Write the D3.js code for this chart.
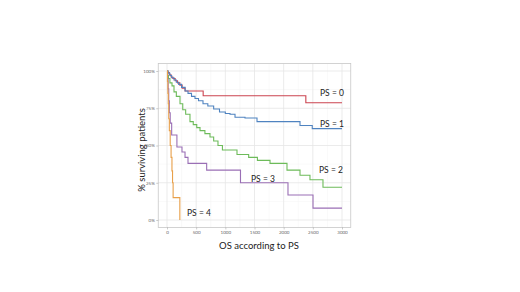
<!DOCTYPE html>
<html><head><meta charset="utf-8">
<script src="https://cdn.jsdelivr.net/npm/d3@7"></script>
<style>body{margin:0;background:#fff}svg{display:block}</style>
</head><body>
<script>
const xTicks = [0, 500, 1000, 1500, 2000, 2500, 3000];
const yTicks = [0, 0.25, 0.5, 0.75, 1];
const yTickLabels = ["0%", "25%", "50%", "75%", "100%"];
const groups = ["PS = 0", "PS = 1", "PS = 2", "PS = 3", "PS = 4"];
const ps0 = [[0,1],[15,0.99],[40,0.975],[70,0.96],[100,0.95],[140,0.935],[180,0.92],[220,0.905],[260,0.885],[310,0.866],[620,0.834],[2380,0.787],[3000,0.787]];
const ps1 = [[0,1],[20,0.985],[50,0.97],[80,0.955],[120,0.94],[160,0.925],[200,0.91],[250,0.89],[310,0.866],[360,0.85],[420,0.83],[480,0.815],[540,0.80],[617,0.78],[700,0.765],[800,0.745],[900,0.725],[1000,0.715],[1080,0.71],[1166,0.69],[1337,0.685],[1543,0.66],[2280,0.634],[2490,0.613],[3000,0.613]];
const ps2 = [[0,1],[10,0.97],[25,0.95],[50,0.92],[86,0.9],[120,0.86],[160,0.83],[223,0.78],[270,0.74],[320,0.71],[394,0.66],[450,0.64],[510,0.62],[566,0.60],[650,0.58],[737,0.557],[800,0.53],[874,0.50],[950,0.47],[1200,0.44],[1400,0.42],[1550,0.40],[1766,0.38],[2057,0.335],[2280,0.30],[2451,0.27],[2674,0.22],[3000,0.22]];
const ps3 = [[0,1],[10,0.95],[20,0.88],[30,0.8],[40,0.72],[55,0.65],[80,0.57],[170,0.49],[257,0.456],[309,0.42],[360,0.38],[680,0.335],[1260,0.25],[2074,0.168],[2503,0.08],[3000,0.08]];
const ps4 = [[0,1],[8,0.93],[15,0.85],[22,0.78],[30,0.68],[40,0.6],[55,0.5],[70,0.42],[85,0.33],[95,0.25],[105,0.15],[220,0]];
const series = [ps0, ps1, ps2, ps3, ps4];
const colors = ["#cc4450", "#4f83c0", "#6dbb5a", "#9a6fb5", "#e8a04a"];
const labelPos = [[2623,0.832],[2623,0.622],[2606,0.315],[1440,0.255],[343,0.027]];

const W = 520, H = 292;
const svg = d3.select("body").append("svg").attr("width", W).attr("height", H);
const x = d3.scaleLinear().domain([0, 3000]).range([167, 342]);
const y = d3.scaleLinear().domain([0, 1]).range([220, 71]);
const px0 = x(-150), px1 = x(3150), py0 = y(1.05), py1 = y(-0.05);

// grid
const g = svg.append("g");
const minorX = d3.range(250, 3000, 500), minorY = [0.125, 0.375, 0.625, 0.875];
g.selectAll(".mx").data(minorX).join("line").attr("x1", d=>x(d)).attr("x2", d=>x(d)).attr("y1", py0).attr("y2", py1).attr("stroke", "#f2f2f2").attr("stroke-width", 0.5);
g.selectAll(".my").data(minorY).join("line").attr("y1", d=>y(d)).attr("y2", d=>y(d)).attr("x1", px0).attr("x2", px1).attr("stroke", "#f2f2f2").attr("stroke-width", 0.5);
g.selectAll(".gx").data(xTicks).join("line").attr("x1", d=>x(d)).attr("x2", d=>x(d)).attr("y1", py0).attr("y2", py1).attr("stroke", "#e6e6e6").attr("stroke-width", 0.8);
g.selectAll(".gy").data(yTicks).join("line").attr("y1", d=>y(d)).attr("y2", d=>y(d)).attr("x1", px0).attr("x2", px1).attr("stroke", "#e6e6e6").attr("stroke-width", 0.8);
svg.append("rect").attr("x", px0).attr("y", py0).attr("width", px1-px0).attr("height", py1-py0).attr("fill", "none").attr("stroke", "#c8c8c8").attr("stroke-width", 0.8);

// axes
const xa = svg.append("g").attr("transform", `translate(0,${py1})`).call(d3.axisBottom(x).tickValues(xTicks).tickFormat(d3.format("d")).tickSize(2).tickPadding(1.5));
const ya = svg.append("g").attr("transform", `translate(${px0},0)`).call(d3.axisLeft(y).tickValues(yTicks).tickFormat((d,i)=>yTickLabels[i]).tickSize(2).tickPadding(1.5));
[xa, ya].forEach(a => {
  a.select(".domain").remove();
  a.selectAll("line").attr("stroke", "#999").attr("stroke-width", 0.5);
  a.selectAll("text").attr("font-size", 4.5).attr("fill", "#666").attr("font-family", "Lato, sans-serif");
});

// curves
const line = d3.line().x(d=>x(d[0])).y(d=>y(d[1])).curve(d3.curveStepAfter);
svg.selectAll(".curve").data(series).join("path").attr("d", line).attr("fill", "none")
  .attr("stroke", (d,i)=>colors[i]).attr("stroke-width", 1.1);

// labels
svg.selectAll(".lab").data(groups).join("text").text(d=>d)
  .attr("x", (d,i)=>x(labelPos[i][0])).attr("y", (d,i)=>y(labelPos[i][1]))
  .attr("font-family", "Lato, sans-serif").attr("font-size", 8.5).attr("fill", "#222");

svg.append("text").text("OS according to PS").attr("x", 259).attr("y", 249).attr("text-anchor", "middle")
  .attr("font-family", "Lato, sans-serif").attr("font-size", 9.5).attr("fill", "#222");
svg.append("text").text("% surviving patients").attr("transform", "translate(145,150) rotate(-90)").attr("text-anchor", "middle")
  .attr("font-family", "Lato, sans-serif").attr("font-size", 9.5).attr("fill", "#222");
</script>
</body></html>
